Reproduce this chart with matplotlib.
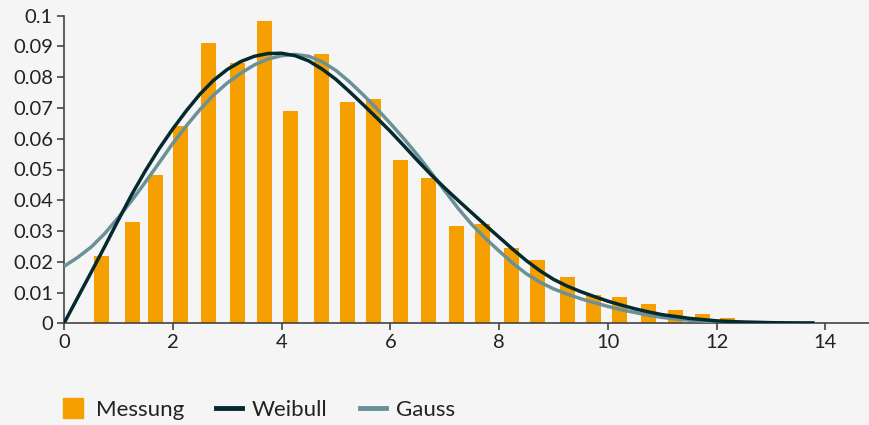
import matplotlib
matplotlib.use("Agg")
import matplotlib.pyplot as plt
from matplotlib.lines import Line2D

# --- data ---
bar_x = [0.69, 1.26, 1.68, 2.14, 2.66, 3.19, 3.69, 4.16, 4.73, 5.21, 5.69, 6.19,
         6.70, 7.22, 7.69, 8.23, 8.70, 9.26, 9.73, 10.21, 10.74, 11.24, 11.74, 12.20]
messung = [0.0219, 0.0329, 0.0482, 0.0641, 0.0911, 0.0847, 0.0983, 0.0690, 0.0875,
           0.0720, 0.0729, 0.0531, 0.0472, 0.0316, 0.0323, 0.0245, 0.0206, 0.0151,
           0.0092, 0.0085, 0.0063, 0.0043, 0.0030, 0.0017]

curve_x = [0, 0.25, 0.5, 0.75, 1.0, 1.25, 1.5, 1.75, 2.0, 2.25, 2.5, 2.75, 3.0, 3.25,
           3.5, 3.75, 4.0, 4.25, 4.5, 4.75, 5.0, 5.25, 5.5, 5.75, 6.0, 6.25, 6.5, 6.75,
           7.0, 7.25, 7.5, 7.75, 8.0, 8.25, 8.5, 8.75, 9.0, 9.25, 9.5, 9.75, 10.0,
           10.25, 10.5, 10.75, 11.0, 11.25, 11.5, 11.75, 12.0, 12.5, 13.0, 13.5, 13.8]
weibull = [0.0, 0.0083, 0.0166, 0.0250, 0.0336, 0.0420, 0.0497, 0.0568, 0.0632,
           0.0691, 0.0745, 0.0790, 0.0825, 0.0851, 0.0868, 0.0877, 0.0878, 0.0870,
           0.0853, 0.0826, 0.0793, 0.0753, 0.0711, 0.0668, 0.0624, 0.0577, 0.0529,
           0.0483, 0.0440, 0.0399, 0.0359, 0.0319, 0.0280, 0.0241, 0.0204, 0.0171,
           0.0143, 0.0121, 0.0103, 0.0087, 0.0072, 0.0059, 0.0047, 0.0037, 0.0028,
           0.0022, 0.0016, 0.0012, 0.0008, 0.0004, 0.0002, 0.0001, 0.0001]
gauss = [0.0185, 0.0214, 0.0248, 0.0292, 0.0344, 0.0400, 0.0460, 0.0522, 0.0585,
         0.0642, 0.0695, 0.0742, 0.0781, 0.0813, 0.0840, 0.0859, 0.0870, 0.0874,
         0.0868, 0.0850, 0.0822, 0.0785, 0.0743, 0.0698, 0.0650, 0.0600, 0.0547,
         0.0490, 0.0431, 0.0373, 0.0321, 0.0276, 0.0235, 0.0196, 0.0161, 0.0134,
         0.0112, 0.0095, 0.0080, 0.0067, 0.0055, 0.0044, 0.0035, 0.0026, 0.0019,
         0.0014, 0.0010, 0.0007, 0.0005, 0.0003, 0.0002, 0.0001, 0.0001]

x_ticks = [0, 2, 4, 6, 8, 10, 12, 14]
y_ticks = [0, 0.01, 0.02, 0.03, 0.04, 0.05, 0.06, 0.07, 0.08, 0.09, 0.1]
y_labels = ["0", "0.01", "0.02", "0.03", "0.04", "0.05", "0.06", "0.07", "0.08", "0.09", "0.1"]

ORANGE = "#f5a000"
DARK = "#04292e"
GREY = "#6a9197"
BG = "#f5f5f5"
TXT = "#222222"

plt.rcParams['font.family'] = ['Lato', 'DejaVu Sans']

fig = plt.figure(figsize=(8.7, 4.25), dpi=100, facecolor=BG)
ax = fig.add_axes([64 / 870, 1 - 323.3 / 425, 1 - 64 / 870, (323.3 - 15.7) / 425])
ax.set_facecolor(BG)

ax.bar(bar_x, messung, width=0.276, color=ORANGE, zorder=2)
ax.plot(curve_x, gauss, color=GREY, lw=2.5, zorder=3, solid_capstyle='butt',
        solid_joinstyle='round')
ax.plot(curve_x, weibull, color=DARK, lw=2.5, zorder=4, solid_capstyle='butt',
        solid_joinstyle='round')

ax.set_xlim(0, 14.82)
ax.set_ylim(0, 0.1)
ax.set_xticks(x_ticks)
ax.set_xticklabels([str(t) for t in x_ticks])
ax.set_yticks(y_ticks)
ax.set_yticklabels(y_labels)

for s in ['top', 'right']:
    ax.spines[s].set_visible(False)
for s in ['left', 'bottom']:
    ax.spines[s].set_color("#444444")
    ax.spines[s].set_linewidth(1.2)
ax.tick_params(axis='both', colors="#444444", labelcolor=TXT, labelsize=14.5,
               length=5, width=1.2)
ax.tick_params(axis='x', pad=3)
ax.tick_params(axis='y', pad=3)

handles = [
    Line2D([], [], marker='s', ms=14.5, color=ORANGE, linestyle='none'),
    Line2D([], [], color=DARK, lw=3.5),
    Line2D([], [], color=GREY, lw=3.5),
]
fig.legend(handles, ["Messung", "Weibull", "Gauss"], loc='center left',
           bbox_to_anchor=(0.0456, 0.035), ncol=3, frameon=False, fontsize=16,
           handlelength=1.17, handletextpad=0.45, columnspacing=1.45, labelcolor=TXT)

fig.savefig("out.png", dpi=100, facecolor=BG)
